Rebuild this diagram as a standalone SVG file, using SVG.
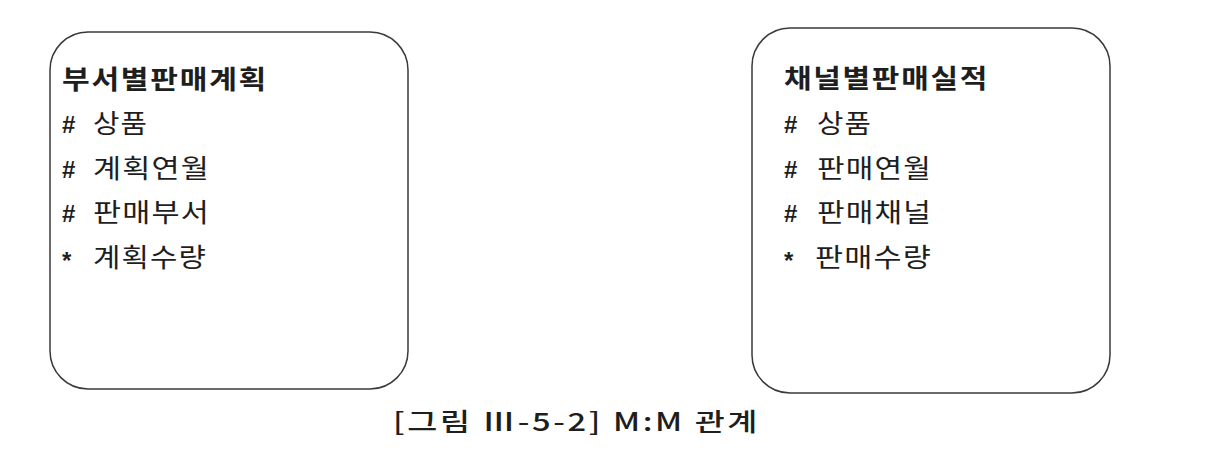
<svg xmlns="http://www.w3.org/2000/svg" width="1206" height="468" viewBox="0 0 1206 468">
<style>
.box{fill:#fff;stroke:#3a3a3a;stroke-width:1.5}
text{font-family:"Noto Sans CJK KR","Noto Sans",sans-serif;fill:#1e1e1e}
.title{font-size:26px;font-weight:bold;letter-spacing:1.5px}
.item{font-size:26px;letter-spacing:1px}
.mark{font-family:"Liberation Sans",sans-serif;font-size:24px;font-weight:bold}
.cap{font-size:25px;font-weight:500;letter-spacing:2px}
</style>
<rect width="1206" height="468" fill="#fff"/>
<g id="node-plan">
<rect class="box" x="50" y="32" width="358" height="357" rx="38"/>
<text class="title" x="62" y="89" textLength="206" lengthAdjust="spacingAndGlyphs">부서별판매계획</text>
<text class="mark" x="62" y="133">#</text><text class="item" x="93" y="133" textLength="55" lengthAdjust="spacingAndGlyphs">상품</text>
<text class="mark" x="62" y="178">#</text><text class="item" x="93" y="178" textLength="117" lengthAdjust="spacingAndGlyphs">계획연월</text>
<text class="mark" x="62" y="222">#</text><text class="item" x="93" y="222" textLength="117" lengthAdjust="spacingAndGlyphs">판매부서</text>
<text class="mark" x="62" y="269">*</text><text class="item" x="93" y="267" textLength="114" lengthAdjust="spacingAndGlyphs">계획수량</text>
</g>
<g id="node-actual">
<rect class="box" x="752" y="28" width="358" height="365" rx="38"/>
<text class="title" x="784" y="88" textLength="205" lengthAdjust="spacingAndGlyphs">채널별판매실적</text>
<text class="mark" x="784" y="133">#</text><text class="item" x="817" y="133" textLength="55" lengthAdjust="spacingAndGlyphs">상품</text>
<text class="mark" x="784" y="178">#</text><text class="item" x="817" y="178" textLength="115" lengthAdjust="spacingAndGlyphs">판매연월</text>
<text class="mark" x="784" y="222">#</text><text class="item" x="817" y="222" textLength="115" lengthAdjust="spacingAndGlyphs">판매채널</text>
<text class="mark" x="784" y="269">*</text><text class="item" x="815" y="267" textLength="117" lengthAdjust="spacingAndGlyphs">판매수량</text>
</g>
<g id="connectors"></g>
<text class="cap" x="393" y="431" textLength="367" lengthAdjust="spacingAndGlyphs">[그림 Ⅲ-5-2] M:M 관계</text>
</svg>
